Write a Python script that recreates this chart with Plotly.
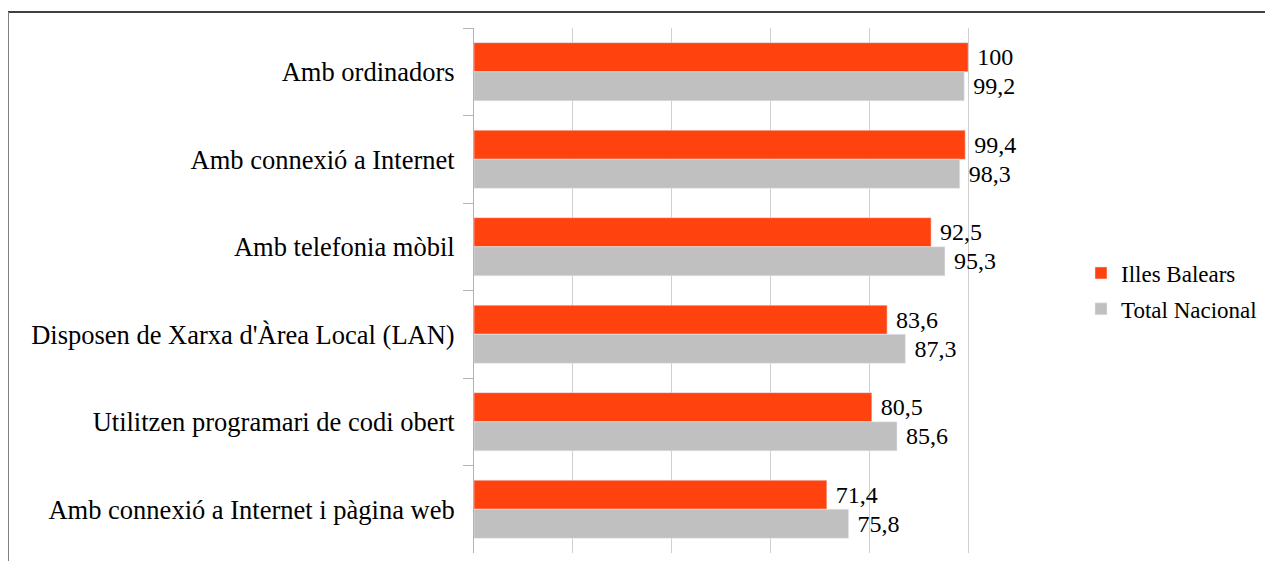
import plotly.graph_objects as go

# Chart data
categories = ['Amb ordinadors',
              'Amb connexió a Internet',
              'Amb telefonia mòbil',
              "Disposen de Xarxa d'Àrea Local (LAN)",
              'Utilitzen programari de codi obert',
              'Amb connexió a Internet i pàgina web']
illes_balears = [100, 99.4, 92.5, 83.6, 80.5, 71.4]
total_nacional = [99.2, 98.3, 95.3, 87.3, 85.6, 75.8]

def fmt(v):
    return '\u00a0' + ('%g' % v).replace('.', ',')

serif = 'Liberation Serif, DejaVu Serif, serif'

fig = go.Figure()
fig.add_trace(go.Bar(
    y=categories, x=illes_balears, name='Illes Balears', orientation='h',
    marker_color='#ff420e', text=[fmt(v) for v in illes_balears],
    textposition='outside', cliponaxis=False, legendgroup='a',
    textfont=dict(family=serif, size=24, color='black')
))
fig.add_trace(go.Bar(
    y=categories, x=total_nacional, name='Total Nacional', orientation='h',
    marker_color='#c0c0c0', text=[fmt(v) for v in total_nacional],
    textposition='outside', cliponaxis=False, legendgroup='b',
    textfont=dict(family=serif, size=24, color='black')
))

# page coordinates of the plot area (the html body adds an 8px offset)
L, R, T, B = 474.0, 1067.0, 28.0, 553.0
W, H = R - L, B - T
px = lambda x: (x - L) / W
py = lambda y: (B - y) / H

fig.update_layout(
    width=1265, height=553,
    margin=dict(l=L - 8, r=1265 + 8 - R, t=T - 8, b=553 + 8 - B),
    paper_bgcolor='white', plot_bgcolor='white',
    barmode='group', bargap=0.335, bargroupgap=0,
    font=dict(family=serif, size=20, color='black'),
    showlegend=True,
    legend=dict(x=px(1081), y=py(291), xanchor='left', yanchor='middle',
                font=dict(family=serif, size=23, color='black'),
                tracegroupgap=3, bgcolor='rgba(0,0,0,0)'),
    uniformtext=dict(mode=False),
    shapes=[
        dict(type='line', xref='paper', yref='paper', x0=px(8), x1=px(1280),
             y0=py(12), y1=py(12), line=dict(color='black', width=1.5)),
        dict(type='line', xref='paper', yref='paper', x0=px(8), x1=px(8),
             y0=py(12), y1=py(570), line=dict(color='#808080', width=2)),
    ]
)
fig.update_xaxes(range=[0, 120], dtick=20, showgrid=True, gridcolor='#d0d0d0',
                 gridwidth=1, showticklabels=False, zeroline=False, showline=False)
fig.update_yaxes(autorange='reversed', type='category', tickson='boundaries',
                 ticks='outside', ticklen=10, tickcolor='#b3b3b3',
                 showline=True, linecolor='#b3b3b3', linewidth=1,
                 showgrid=False, ticklabelstandoff=13,
                 tickfont=dict(family=serif, size=26.5, color='black'))

fig.write_html('out.html')
